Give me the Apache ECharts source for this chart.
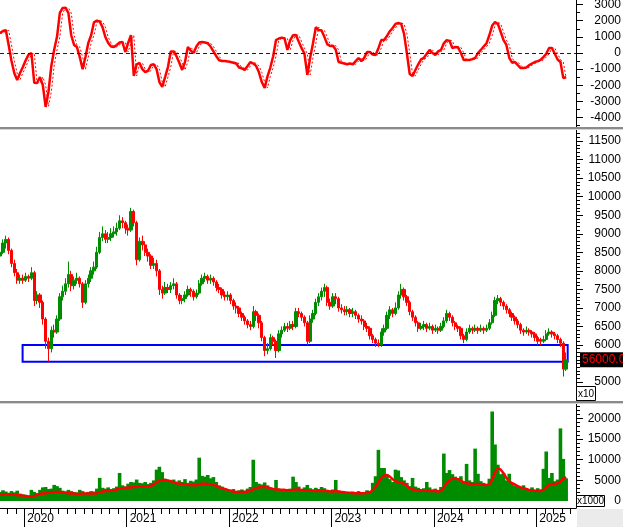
<!DOCTYPE html>
<html><head><meta charset="utf-8">
<script src="https://cdn.jsdelivr.net/npm/echarts@6/dist/echarts.min.js"></script>
<style>html,body{margin:0;padding:0;background:#fff}#c{width:623px;height:527px}</style>
</head><body><div id="c"></div>
<script>
// time: months counted from Jan 2019; one sample = 1/3 month
const START_MONTH = 9;
const STEP = 1 / 3;
const X_MIN = 9.152, X_MAX = 76.655;

// candles: [open, close, low, high] (price axis units, x10)
const candles = [
[8400,8500,8300,8650],[8500,8750,8450,8850],[8750,8850,8600,8950],[8850,8550,8450,8900],[8550,8200,8100,8600],
[8200,7950,7850,8300],[7950,7750,7650,8050],[7750,7800,7650,7900],[7800,7750,7650,7900],[7750,7850,7700,7950],
[7850,7800,7700,7900],[7800,7950,7750,8100],[7950,7200,7050,8000],[7200,7350,7100,7450],[7350,7150,7000,7400],
[7150,6700,6550,7200],[6700,6100,5900,6750],[6100,5900,5550,6200],[5900,6400,5800,6500],[6400,6350,6200,6550],
[6350,6700,6300,6800],[6700,7300,6650,7400],[7300,7450,7200,7600],[7450,7650,7350,7800],[7650,7900,7550,8250],
[7900,7600,7450,8000],[7600,7750,7500,7850],[7750,7800,7650,7950],[7800,7650,7550,7850],[7650,7150,7000,7700],
[7150,7650,7100,7750],[7650,7800,7550,7900],[7800,8000,7700,8100],[8000,8100,7900,8250],[8100,8500,8050,8650],
[8500,8900,8450,9050],[8900,9000,8800,9200],[9000,8850,8750,9100],[8850,8900,8750,9050],[8900,9000,8800,9150],
[9000,9050,8900,9200],[9050,9150,8950,9300],[9150,9350,9100,9500],[9350,9300,9150,9450],[9300,9150,9000,9350],
[9150,9100,8950,9250],[9100,9600,9050,9700],[9600,9300,9200,9650],[9300,8300,8150,9350],[8300,8800,8250,8900],
[8800,8700,8550,8950],[8700,8500,8400,8800],[8500,8400,8250,8600],[8400,8150,8050,8450],[8150,8200,8050,8350],
[8200,8000,7850,8300],[8000,7500,7350,8050],[7500,7400,7250,7600],[7400,7550,7350,7700],[7550,7500,7400,7650],
[7500,7600,7400,7700],[7600,7650,7500,7800],[7650,7350,7250,7700],[7350,7200,7100,7400],[7200,7250,7100,7350],
[7250,7350,7150,7450],[7350,7500,7300,7600],[7500,7450,7300,7550],[7450,7300,7200,7500],[7300,7400,7250,7500],
[7400,7650,7350,7750],[7650,7800,7600,7900],[7800,7850,7700,7950],[7850,7750,7650,7900],[7750,7800,7650,7900],
[7800,7700,7600,7850],[7700,7550,7450,7750],[7550,7500,7400,7650],[7500,7350,7250,7550],[7350,7300,7200,7450],
[7300,7350,7200,7450],[7350,7200,7100,7400],[7200,7050,6950,7250],[7050,7000,6850,7150],[7000,6850,6750,7050],
[6850,6750,6650,6900],[6750,6650,6550,6800],[6650,6550,6450,6700],[6550,6500,6400,6650],[6500,6900,6450,7050],
[6900,6800,6650,6950],[6800,6600,6450,6850],[6600,6200,6100,6650],[6200,5850,5700,6250],[5850,5900,5750,6050],
[5900,6200,5850,6300],[6200,6100,6000,6250],[6100,5850,5650,6150],[5850,6300,5800,6400],[6300,6400,6200,6500],
[6400,6500,6350,6600],[6500,6450,6350,6600],[6450,6550,6400,6650],[6550,6500,6400,6650],[6500,6900,6450,7000],
[6900,6850,6750,7000],[6850,6750,6650,6900],[6750,6600,6500,6800],[6600,6100,6000,6650],[6100,6700,6050,6800],
[6700,6850,6600,6950],[6850,7150,6800,7250],[7150,7300,7050,7400],[7300,7450,7200,7550],[7450,7550,7300,7650],
[7550,7150,7050,7600],[7150,7050,6950,7250],[7050,7300,7000,7400],[7300,7250,7100,7400],[7250,7000,6900,7300],
[7000,6950,6850,7100],[6950,6900,6800,7050],[6900,6950,6800,7050],[6950,6850,6750,7000],[6850,6900,6750,7000],
[6900,6800,6700,6950],[6800,6700,6600,6850],[6700,6650,6550,6800],[6650,6500,6400,6700],[6500,6450,6350,6600],
[6450,6250,6150,6500],[6250,6150,6050,6300],[6150,6050,5950,6200],[6050,6000,5950,6150],[6000,6350,5950,6450],
[6350,6450,6250,6550],[6450,6800,6400,6900],[6800,6950,6700,7050],[6950,6850,6750,7000],[6850,7000,6800,7150],
[7000,7350,6950,7450],[7350,7500,7250,7650],[7500,7300,7200,7550],[7300,7150,7050,7350],[7150,6900,6800,7200],
[6900,6750,6650,6950],[6750,6600,6500,6800],[6600,6450,6350,6650],[6450,6500,6400,6600],[6500,6550,6400,6650],
[6550,6450,6350,6600],[6450,6500,6400,6600],[6500,6400,6300,6550],[6400,6450,6350,6550],[6450,6400,6300,6500],
[6400,6500,6350,6600],[6500,6650,6450,6750],[6650,6850,6600,6950],[6850,6750,6650,6900],[6750,6600,6500,6800],
[6600,6500,6400,6650],[6500,6450,6350,6550],[6450,6250,6150,6500],[6250,6150,6050,6300],[6150,6350,6100,6450],
[6350,6450,6300,6550],[6450,6400,6300,6500],[6400,6450,6350,6550],[6450,6400,6300,6500],[6400,6450,6350,6550],
[6450,6400,6300,6500],[6400,6450,6350,6550],[6450,6600,6400,6700],[6600,6800,6550,6900],[6800,7200,6750,7300],
[7200,7250,7100,7350],[7250,7150,7050,7300],[7150,7050,6950,7200],[7050,6950,6850,7100],[6950,6850,6750,7000],
[6850,6750,6650,6900],[6750,6650,6550,6800],[6650,6550,6450,6700],[6550,6400,6300,6600],[6400,6350,6250,6450],
[6350,6400,6300,6500],[6400,6350,6250,6450],[6350,6300,6200,6400],[6300,6200,6100,6350],[6200,6100,6000,6250],
[6150,6100,6000,6200],[6100,6150,6050,6250],[6150,6300,6100,6400],[6300,6350,6250,6450],[6350,6300,6200,6400],
[6300,6250,6150,6350],[6250,6150,6050,6300],[6150,6050,5950,6200],[6050,5350,5150,6100],[5350,5600,5300,5800]
];

// oscillator (top panel) and its lagging dashed line
const osc = [
1240,1360,1420,500,-500,-1250,-1670,-1240,-870,-450,
-100,0,-1850,-1860,-1490,-1980,-3340,-2400,-800,200,
1000,2480,2790,2800,2480,1100,500,370,-250,-1000,
-250,620,1100,1900,2000,1950,1600,990,620,400,
370,500,650,680,60,620,1110,-1420,-700,-620,
-1000,-1180,-1100,-740,-700,-1000,-1800,-2100,-1490,-870,
100,100,-200,-600,-1050,-560,370,150,0,400,
650,680,650,600,400,100,-200,-450,-500,-500,
-520,-560,-600,-650,-900,-950,-1050,-800,-560,-650,
-800,-1200,-1800,-2170,-1450,-900,-200,800,900,950,
900,190,800,1100,1110,700,300,-50,-1360,-300,
600,1600,1420,1400,1000,550,430,450,200,-560,
-600,-650,-700,-650,-700,-500,-310,-500,-300,60,
60,-100,-120,300,800,800,1050,1350,1550,1800,
1860,1800,1200,0,-1300,-1420,-1050,-700,-400,-300,
-50,190,0,-120,100,190,600,800,750,310,
370,350,0,-430,-430,-430,-380,-310,0,190,
400,600,1100,1700,1920,1800,1300,800,500,-300,
-600,-560,-750,-930,-930,-900,-750,-650,-560,-500,
-430,-250,-50,310,310,-50,-400,-560,-1550,-1500
];
const oscSignal = [
1200,1240,1360,1400,500,-500,-1250,-1650,-1240,-870,
-450,-100,0,-1850,-1860,-1490,-1980,-3300,-2400,-800,
200,1000,2480,2790,2800,2480,1100,500,370,-250,
-1000,-250,620,1100,1900,2000,1950,1600,990,620,
400,370,500,650,680,60,620,1110,-1420,-700,
-620,-1000,-1180,-1100,-740,-700,-1000,-1800,-2100,-1490,
-870,100,100,-200,-600,-1050,-560,370,150,0,
400,650,680,650,600,400,100,-200,-450,-500,
-500,-520,-560,-600,-650,-900,-950,-1050,-800,-560,
-650,-800,-1200,-1800,-2170,-1450,-900,-200,800,900,
950,900,190,800,1100,1110,700,300,-50,-1360,
-300,600,1600,1420,1400,1000,550,430,450,200,
-560,-600,-650,-700,-650,-700,-500,-310,-500,-300,
60,60,-100,-120,300,800,800,1050,1350,1550,
1800,1860,1800,1200,0,-1300,-1420,-1050,-700,-400,
-300,-50,190,0,-120,100,190,600,800,750,
310,370,350,0,-430,-430,-430,-380,-310,0,
190,400,600,1100,1700,1920,1800,1300,800,500,
-300,-600,-560,-750,-930,-930,-900,-750,-650,-560,
-500,-430,-250,-50,310,310,-50,-400,-560,-1550
];

// volume (x1000) and its moving average
const volume = [
2200,2600,2300,2000,2400,2100,2500,1800,1600,1500,
1400,2700,2200,1900,2700,3300,3400,2900,3000,3900,
3600,3200,2500,2300,2700,2400,2200,2100,2700,2400,
2000,2200,2400,2300,3000,5600,3200,3000,3300,2900,
3100,3500,6800,3800,3500,4200,4600,4500,5200,4400,
4300,4600,4100,4400,5000,7600,8300,7000,5400,5100,
4800,5200,4700,5000,4600,5300,4400,4900,4700,5200,
10500,6100,5900,6300,5500,5800,4600,3800,3500,3100,
2700,2500,2900,2400,2600,2800,2500,3000,3400,10000,
4600,4200,4000,4500,3800,3000,2800,5100,3000,2700,
2600,2500,3000,5900,4600,3500,2900,3300,3900,3100,
2800,3200,2900,3400,3100,2700,2600,2800,5100,2500,
2300,2100,2200,2000,2300,2100,2400,2000,2200,2600,
2400,4400,6000,12400,8000,8000,6500,5300,4600,7600,
7400,5800,5000,4400,3600,5600,3500,3200,2900,3100,
4600,3300,2800,3000,2700,3400,11500,6800,7500,6500,
5900,5400,6000,4800,9000,5000,4600,12700,6600,4800,
4400,4000,5400,21700,13700,8800,6500,6800,5000,6600,
4200,3700,3400,3200,3800,3000,2900,3300,2700,3100,
2800,7800,12000,5600,6800,4800,5200,17600,10200,5500
];
const volumeMA = [
1500,1500,1600,1600,1500,1500,1400,1400,1300,1200,
1000,1000,1200,1500,1700,1800,1900,2000,2100,2200,
2200,2200,2100,2000,1900,1800,1800,1700,1700,1800,
1800,1800,1800,1800,1900,2100,2300,2400,2400,2500,
2600,2800,3000,3100,3200,3300,3300,3400,3400,3500,
3500,3500,3600,3700,4000,4500,4900,5100,5100,5000,
4800,4500,4300,4200,4100,4000,3900,3900,3800,3800,
4000,4200,4200,4100,4000,3900,3700,3300,3100,2900,
2700,2500,2300,2200,2200,2200,2200,2300,2400,2800,
3100,3300,3400,3400,3300,3100,2900,2800,2800,2700,
2700,2600,2600,2700,2800,2800,2700,2600,2600,2500,
2500,2400,2400,2400,2400,2400,2300,2300,2400,2300,
2200,2100,2000,2000,1900,1900,1900,1900,1900,2000,
2100,2600,3400,4500,5600,6200,6300,5900,5300,4800,
4600,4400,4200,3700,3100,2800,2700,2600,2500,2500,
2500,2400,2400,2400,2300,2500,3300,4300,5000,5400,
5400,5300,5000,4500,4300,4200,4000,4100,4100,4000,
3900,3900,4000,5200,6900,8000,7600,6700,5600,4800,
4300,4000,3600,3300,3100,2900,2700,2600,2500,2400,
2400,2700,3300,3900,4100,4100,4300,4700,5400,5800
];

const years = [2020, 2021, 2022, 2023, 2024, 2025];
const oscTicks = [-4000, -3000, -2000, -1000, 0, 1000, 2000, 3000];
const priceTicks = [5000,5500,6000,6500,7000,7500,8000,8500,9000,9500,10000,10500,11000,11500];
const volTicks = [0, 5000, 10000, 15000, 20000];
const lastPrice = 5600, lastPriceLabel = '56000.00';
const zone = { from: 11.8, to: 75.68, top: 6000, bottom: 5550 };

const xOf = i => START_MONTH + (i + 0.5) * STEP;
const pair = arr => arr.map((v, i) => [xOf(i), v]);

const FONT = '"Liberation Sans", Arial, sans-serif';
const GREEN = '#008c00', RED = '#ff0000';

const monthTicks = [];
for (let m = 10; m <= 76; m++) if (m % 12 !== 0) monthTicks.push(m);
const yearTicks = years.map(y => (y - 2019) * 12);
const oscMinor = []; for (let v = -4500; v <= 3000; v += 500) if (v % 1000 !== 0) oscMinor.push(v);
const priceMinor = []; for (let v = 4600; v <= 11700; v += 100) if (v % 500 !== 0) priceMinor.push(v);
const volMinor = []; for (let v = 1000; v <= 23000; v += 1000) if (v % 5000 !== 0) volMinor.push(v);

const grids = [
  { left: 0, top: 0, width: 576, height: 127 },
  { left: 0, top: 130, width: 576, height: 272 },
  { left: 0, top: 404, width: 576, height: 104 }
].map(g => Object.assign(g, { containLabel: false, outerBoundsMode: 'none' }));

const hiddenX = gi => ({ type: 'value', gridIndex: gi, min: X_MIN, max: X_MAX, show: false,
  axisLine: { onZero: false }, splitLine: { show: false } });

function mainY(gi, min, max, ticks) {
  return { type: 'value', gridIndex: gi, position: 'right', min, max,
    axisLine: { show: true, onZero: false, lineStyle: { color: '#000', width: 1 } },
    axisTick: { show: true, length: 7, customValues: ticks, lineStyle: { color: '#000' } },
    axisLabel: { show: true, customValues: ticks, align: 'right', margin: 45,
      color: '#000', fontFamily: FONT, fontSize: 12, formatter: v => String(v) },
    splitLine: { show: false } };
}
function minorY(gi, min, max, ticks) {
  return { type: 'value', gridIndex: gi, position: 'right', min, max,
    axisLine: { show: false, onZero: false },
    axisTick: { show: true, length: 4, customValues: ticks, lineStyle: { color: '#000' } },
    axisLabel: { show: false }, splitLine: { show: false } };
}

const OSC_MIN = -4584, OSC_MAX = 3283;
const P_MIN = 4463, P_MAX = 11799;
const V_MIN = -1697, V_MAX = 23515;

const option = {
  animation: false,
  backgroundColor: '#fff',
  grid: grids,
  xAxis: [
    hiddenX(0), hiddenX(1),
    { type: 'value', gridIndex: 2, min: X_MIN, max: X_MAX, position: 'bottom',
      axisLine: { show: true, onZero: false, lineStyle: { color: '#000', width: 1 } },
      axisTick: { show: true, length: 19, customValues: yearTicks, lineStyle: { color: '#000' } },
      axisLabel: { show: true, customValues: yearTicks, align: 'left', margin: 5,
        padding: [0, 0, 0, 3], color: '#000', fontFamily: FONT, fontSize: 12,
        formatter: v => String(2019 + Math.round(v / 12)) },
      splitLine: { show: false } },
    { type: 'value', gridIndex: 2, min: X_MIN, max: X_MAX, position: 'bottom',
      axisLine: { show: false, onZero: false },
      axisTick: { show: true, length: 6, customValues: monthTicks, lineStyle: { color: '#000' } },
      axisLabel: { show: false }, splitLine: { show: false } }
  ],
  yAxis: [
    mainY(0, OSC_MIN, OSC_MAX, oscTicks), minorY(0, OSC_MIN, OSC_MAX, oscMinor),
    mainY(1, P_MIN, P_MAX, priceTicks), minorY(1, P_MIN, P_MAX, priceMinor),
    mainY(2, V_MIN, V_MAX, volTicks), minorY(2, V_MIN, V_MAX, volMinor)
  ],
  series: [
    { type: 'line', name: 'signal', xAxisIndex: 0, yAxisIndex: 0, data: pair(oscSignal),
      showSymbol: false, symbol: 'none',
      lineStyle: { color: RED, width: 1, type: [2, 2] }, z: 2 },
    { type: 'line', name: 'osc', xAxisIndex: 0, yAxisIndex: 0, data: pair(osc),
      showSymbol: false, symbol: 'none',
      lineStyle: { color: RED, width: 2.5 }, z: 3,
      markLine: { silent: true, symbol: 'none', label: { show: false },
        lineStyle: { color: '#0000ff', width: 1, type: [4, 3] },
        data: [{ yAxis: 0 }] } },
    { type: 'candlestick', name: 'price', xAxisIndex: 1, yAxisIndex: 2,
      data: candles.map((c, i) => [xOf(i), c[0], c[1], c[2], c[3]]),
      barWidth: 2.8,
      itemStyle: { color: GREEN, color0: RED, borderColor: GREEN, borderColor0: RED, borderWidth: 1 },
      markArea: { silent: true,
        itemStyle: { color: 'rgba(0,0,0,0)', borderColor: '#0000ff', borderWidth: 2 },
        data: [[{ coord: [zone.from, zone.top] }, { coord: [zone.to, zone.bottom] }]] },
      markLine: { silent: true, symbol: 'none',
        lineStyle: { color: 'rgba(0,0,0,0)', width: 1, type: 'solid' },
        label: { show: true, position: 'end', distance: 4, formatter: lastPriceLabel,
          color: RED, backgroundColor: '#000', padding: [2, 2, 1, 2],
          fontFamily: FONT, fontSize: 12, opacity: 1 },
        emphasis: { disabled: true },
        data: [{ yAxis: lastPrice }] } },
    { type: 'bar', name: 'volume', xAxisIndex: 2, yAxisIndex: 4, data: pair(volume),
      barWidth: 3.6, itemStyle: { color: GREEN }, z: 2 },
    { type: 'line', name: 'volMA', xAxisIndex: 2, yAxisIndex: 4, data: pair(volumeMA),
      showSymbol: false, symbol: 'none', lineStyle: { color: RED, width: 2.5 }, z: 3 }
  ],
  graphic: [
    { type: 'rect', z: 100, shape: { x: 0, y: 127, width: 623, height: 2 }, style: { fill: '#8a8a8a' } },
    { type: 'rect', z: 100, shape: { x: 0, y: 129, width: 623, height: 1 }, style: { fill: '#d4d4d4' } },
    { type: 'rect', z: 100, shape: { x: 0, y: 401, width: 623, height: 2 }, style: { fill: '#8a8a8a' } },
    { type: 'rect', z: 100, shape: { x: 0, y: 403, width: 623, height: 1 }, style: { fill: '#d4d4d4' } },
    { type: 'rect', z: 100, shape: { x: 576.5, y: 386.5, width: 19, height: 14 },
      style: { fill: '#fff', stroke: '#000', lineWidth: 1 } },
    { type: 'text', z: 101, x: 586, y: 394,
      style: { text: 'x10', font: '10px ' + FONT, fill: '#000', align: 'center', verticalAlign: 'middle' } },
    { type: 'rect', z: 100, shape: { x: 576.5, y: 495.5, width: 28, height: 11 },
      style: { fill: '#fff', stroke: '#000', lineWidth: 1 } },
    { type: 'text', z: 101, x: 590.5, y: 501.5,
      style: { text: 'x1000', font: '10px ' + FONT, fill: '#000', align: 'center', verticalAlign: 'middle' } },
    { type: 'rect', z: 100, shape: { x: 577, y: 509, width: 46, height: 18 }, style: { fill: '#ebebeb' } }
  ]
};

const chart = echarts.init(document.getElementById('c'), null, { renderer: 'canvas' });
chart.setOption(option);
</script>
</body></html>
